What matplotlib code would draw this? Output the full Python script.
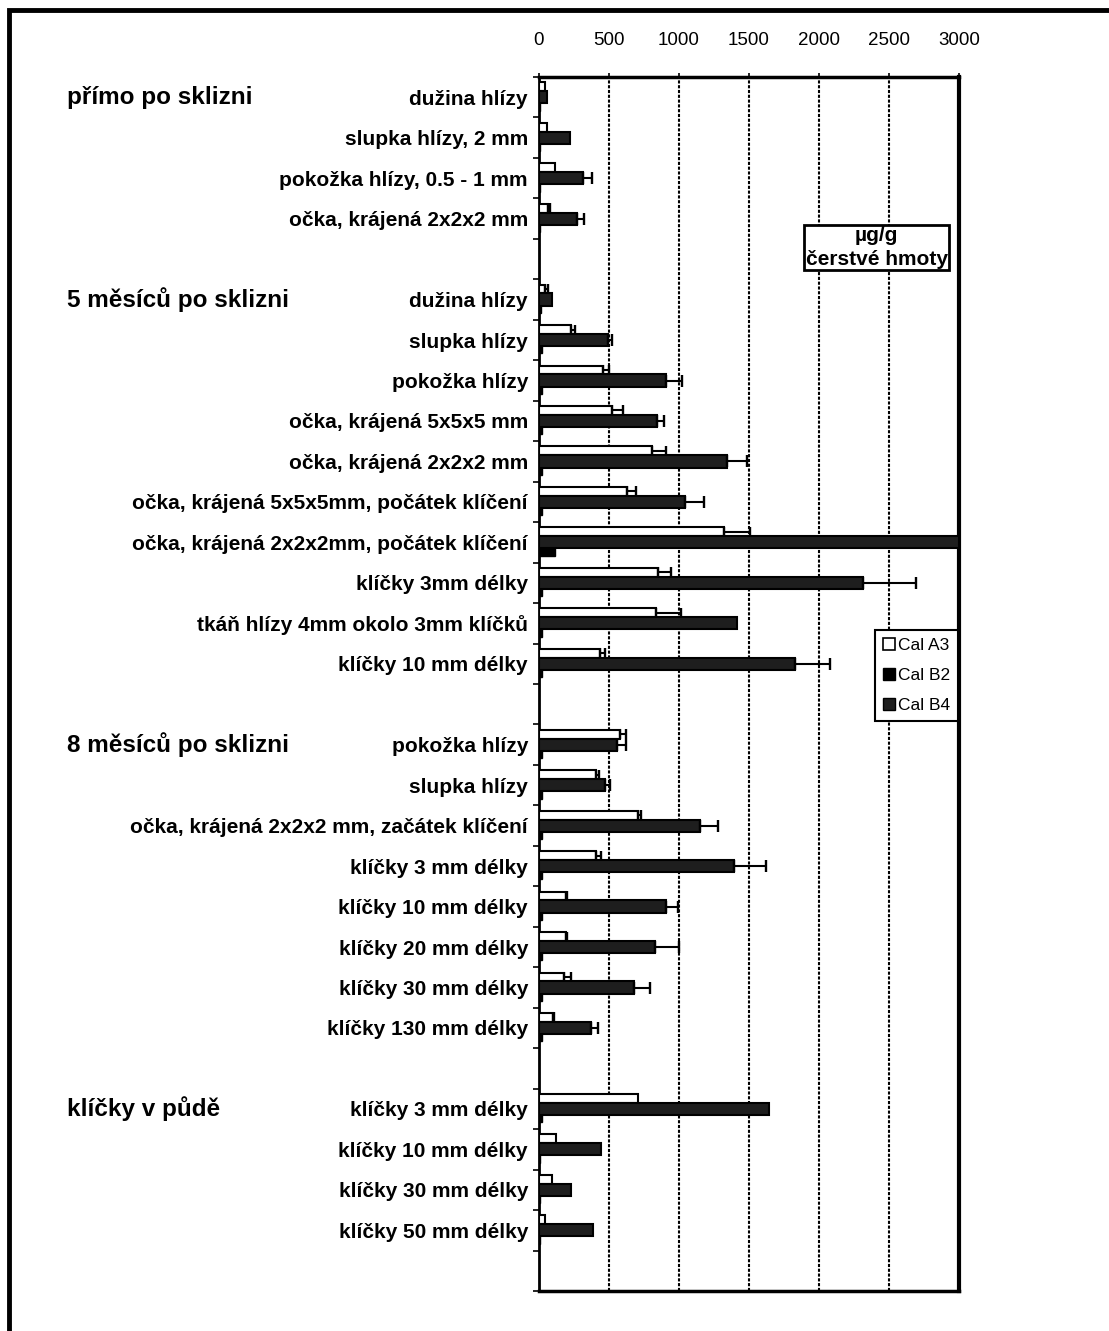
import matplotlib
matplotlib.use('Agg')
import matplotlib.pyplot as plt
import matplotlib.transforms as mtransforms
from matplotlib.patches import Patch, Rectangle
import numpy as np

plt.rcParams['font.family'] = ['Liberation Sans', 'DejaVu Sans']

# sample groups and their rows (top to bottom)
group_titles = ['přímo po sklizni', '5 měsíců po sklizni',
                '8 měsíců po sklizni', 'klíčky v půdě']
group_sizes = [4, 10, 8, 4]

labels = [
    'dužina hlízy', 'slupka hlízy, 2 mm', 'pokožka hlízy, 0.5 - 1 mm',
    'očka, krájená 2x2x2 mm',
    'dužina hlízy', 'slupka hlízy', 'pokožka hlízy', 'očka, krájená 5x5x5 mm',
    'očka, krájená 2x2x2 mm', 'očka, krájená 5x5x5mm, počátek klíčení',
    'očka, krájená 2x2x2mm, počátek klíčení', 'klíčky 3mm délky',
    'tkáň hlízy 4mm okolo 3mm klíčků', 'klíčky 10 mm délky',
    'pokožka hlízy', 'slupka hlízy', 'očka, krájená 2x2x2 mm, začátek klíčení',
    'klíčky 3 mm délky', 'klíčky 10 mm délky', 'klíčky 20 mm délky',
    'klíčky 30 mm délky', 'klíčky 130 mm délky',
    'klíčky 3 mm délky', 'klíčky 10 mm délky', 'klíčky 30 mm délky',
    'klíčky 50 mm délky',
]

# µg/g fresh weight
cal_a3 = [40, 55, 115, 65,
          45, 230, 455, 520, 805, 625, 1320, 850, 835, 435,
          575, 405, 710, 410, 190, 190, 180, 100,
          710, 120, 95, 45]
cal_a3_err = [0, 0, 0, 15,
              20, 25, 45, 80, 105, 70, 185, 95, 180, 35,
              45, 20, 15, 30, 10, 10, 45, 10,
              0, 0, 0, 0]
cal_b2 = [55, 220, 315, 270,
          95, 490, 910, 840, 1345, 1045, 3000, 2315, 1415, 1830,
          555, 470, 1150, 1390, 910, 830, 680, 370,
          1645, 440, 230, 385]
cal_b2_err = [0, 0, 60, 50,
              0, 30, 110, 55, 140, 130, 0, 375, 0, 250,
              65, 35, 125, 230, 85, 170, 115, 50,
              0, 0, 0, 0]
cal_b4 = [10, 10, 10, 10,
          15, 20, 20, 20, 20, 20, 115, 20, 20, 20,
          20, 20, 20, 20, 20, 20, 20, 20,
          20, 10, 10, 10]

# one empty row after every group
rows = []
first_rows = []
pos = 0
for n in group_sizes:
    first_rows.append(pos)
    rows.extend(range(pos, pos + n))
    pos += n + 1
n_slots = pos
y = np.array(rows) + 0.5

W, H = 1109, 1331
fig = plt.figure(figsize=(W / 100, H / 100), dpi=100)
ax = fig.add_axes([539 / W, 1 - 1291 / H, 420 / W, 1214 / H])

# bar thicknesses, stacked white / dark / black inside each row
h_a3, h_b2, h_b4 = 0.22, 0.30, 0.18
y_a3 = y - h_b2 / 2 - h_a3 / 2
y_b2 = y
y_b4 = y + h_b2 / 2 + h_b4 / 2

ax.barh(y_a3, cal_a3, height=h_a3, color='white', edgecolor='black', linewidth=1.5, zorder=3)
ax.barh(y_b2, cal_b2, height=h_b2, color='#1e1e1e', edgecolor='black', linewidth=1.5, zorder=3)
ax.barh(y_b4, cal_b4, height=h_b4, color='black', edgecolor='black', linewidth=1.0, zorder=3)

# one-sided error bars
for vals, errs, yy, cap in [(cal_a3, cal_a3_err, y_a3, 3.6), (cal_b2, cal_b2_err, y_b2, 4.4)]:
    vals = np.array(vals, float)
    errs = np.array(errs, float)
    m = errs > 0
    ax.errorbar(vals[m], yy[m], xerr=[np.zeros(m.sum()), errs[m]],
                fmt='none', ecolor='black', elinewidth=1.5, capsize=cap,
                capthick=1.7, zorder=4)

ax.set_xlim(0, 3000)
ax.set_ylim(n_slots, 0)

ax.xaxis.tick_top()
ax.set_xticks(np.arange(0, 3001, 500))
ax.tick_params(axis='x', length=3, width=1.2, pad=17, labelsize=13.5)
ax.grid(axis='x', color='black', linestyle=(0, (1.5, 0.8)), linewidth=1.5, zorder=1)

ax.set_yticks(y)
ax.set_yticklabels(labels, fontsize=15, fontweight='bold')
ax.set_yticks(np.arange(0, n_slots + 1), minor=True)
ax.tick_params(axis='y', which='major', length=0, pad=8)
ax.tick_params(axis='y', which='minor', length=4, width=1.2, direction='out')

for side, lw in [('top', 2.5), ('bottom', 2.5), ('left', 2.0), ('right', 3.0)]:
    ax.spines[side].set_linewidth(lw)

# group headings on the far left
trans = mtransforms.blended_transform_factory(fig.transFigure, ax.transData)
for title, r in zip(group_titles, first_rows):
    fig.text(67 / W, r + 0.5, title, transform=trans, ha='left', va='center',
             fontsize=17.5, fontweight='bold')

# unit box
ax_trans = mtransforms.blended_transform_factory(ax.transAxes, ax.transData)
ax.text(0.8036, 4.21, 'µg/g\nčerstvé hmoty', transform=ax_trans,
        ha='center', va='center', fontsize=15, fontweight='bold',
        linespacing=1.3, zorder=6,
        bbox=dict(boxstyle='square,pad=0.06', fc='white', ec='black', lw=2))

handles = [Patch(facecolor='white', edgecolor='black', linewidth=1.2, label='Cal A3'),
           Patch(facecolor='black', edgecolor='black', label='Cal B2'),
           Patch(facecolor='#1e1e1e', edgecolor='black', label='Cal B4')]
leg = ax.legend(handles=handles, loc='upper left',
                bbox_to_anchor=(875 / W, 1 - 630 / H), bbox_transform=fig.transFigure,
                borderaxespad=0, fancybox=False, framealpha=1, edgecolor='black',
                fontsize=12.5, handlelength=0.7, handleheight=0.7, handletextpad=0.2,
                labelspacing=0.85, borderpad=0.45)
leg.get_frame().set_linewidth(1.5)
leg.set_zorder(6)

# page frame
fig.add_artist(Rectangle((8.5 / W, -0.05), 1.2, 1 - 9.5 / H + 0.05,
                         transform=fig.transFigure, fill=False,
                         edgecolor='black', linewidth=3.5, clip_on=False))

fig.savefig('out.png', dpi=100)
